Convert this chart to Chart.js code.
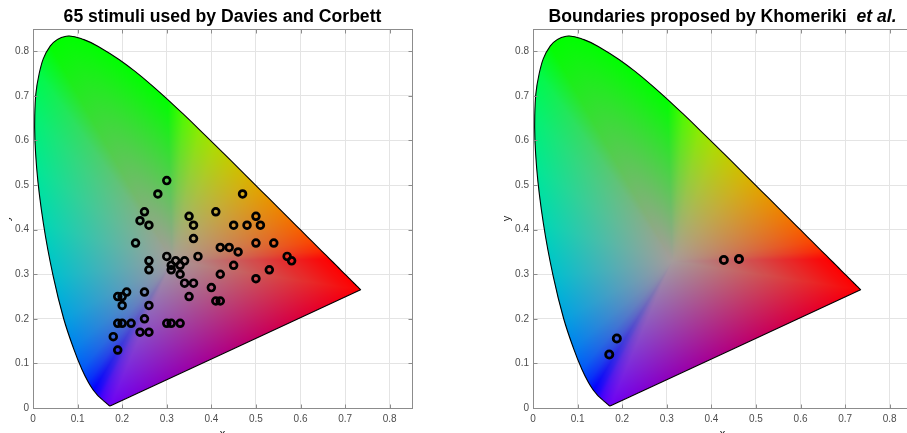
<!DOCTYPE html>
<html><head><meta charset="utf-8">
<script src="https://cdn.jsdelivr.net/npm/chart.js@4.4.1/dist/chart.umd.min.js"></script>
<style>
html,body{margin:0;padding:0;width:907px;height:433px;overflow:hidden;background:#fff;}
#w1{position:absolute;left:9px;top:0;width:441px;height:433px;overflow:hidden;}
#c1{position:absolute;left:-9px;top:0;display:block;}
#w2{position:absolute;left:460px;top:0;width:447px;height:433px;overflow:hidden;}
#c2{position:absolute;left:0;top:0;display:block;}
</style></head><body>
<div id="w1"><canvas id="c1" width="460" height="450"></canvas></div>
<div id="w2"><canvas id="c2" width="480" height="450"></canvas></div>
<script>
// ---- data ----
// CIE 1931 2-degree spectral locus, 380..700 nm
const locusX = [0.1741,0.1740,0.1738,0.1736,0.1733,0.1730,0.1726,0.1721,0.1714,0.1703,0.1689,0.1669,0.1644,0.1611,0.1566,0.1510,0.1440,0.1355,0.1241,0.1096,0.0913,0.0687,0.0454,0.0235,0.0082,0.0039,0.0139,0.0389,0.0743,0.1142,0.1547,0.1929,0.2296,0.2658,0.3016,0.3373,0.3731,0.4087,0.4441,0.4788,0.5125,0.5448,0.5752,0.6029,0.6270,0.6482,0.6658,0.6801,0.6915,0.7006,0.7079,0.7140,0.7190,0.7230,0.7260,0.7283,0.7300,0.7311,0.7320,0.7327,0.7334,0.7344,0.7347];
const locusY = [0.0050,0.0050,0.0049,0.0049,0.0048,0.0048,0.0048,0.0048,0.0051,0.0058,0.0069,0.0086,0.0109,0.0138,0.0177,0.0227,0.0297,0.0399,0.0578,0.0868,0.1327,0.2007,0.2950,0.4127,0.5384,0.6548,0.7502,0.8120,0.8338,0.8262,0.8059,0.7816,0.7543,0.7243,0.6923,0.6589,0.6245,0.5896,0.5547,0.5202,0.4866,0.4544,0.4242,0.3965,0.3725,0.3514,0.3340,0.3197,0.3083,0.2993,0.2920,0.2859,0.2809,0.2770,0.2740,0.2717,0.2700,0.2689,0.2680,0.2673,0.2666,0.2656,0.2653];

const stimX = [0.30,0.28,0.47,0.25,0.41,0.35,0.50,0.24,0.26,0.36,0.45,0.48,0.51,0.36,0.23,0.50,0.54,0.42,0.44,0.46,0.30,0.37,0.57,0.26,0.32,0.34,0.58,0.31,0.33,0.45,0.26,0.31,0.53,0.33,0.42,0.50,0.34,0.36,0.40,0.21,0.25,0.19,0.20,0.35,0.41,0.42,0.20,0.26,0.25,0.19,0.20,0.22,0.30,0.31,0.33,0.24,0.26,0.18,0.19];
const stimY = [0.51,0.48,0.48,0.44,0.44,0.43,0.43,0.42,0.41,0.41,0.41,0.41,0.41,0.38,0.37,0.37,0.37,0.36,0.36,0.35,0.34,0.34,0.34,0.33,0.33,0.33,0.33,0.32,0.32,0.32,0.31,0.31,0.31,0.30,0.30,0.29,0.28,0.28,0.27,0.26,0.26,0.25,0.25,0.25,0.24,0.24,0.23,0.23,0.20,0.19,0.19,0.19,0.19,0.19,0.19,0.17,0.17,0.16,0.13];

const khomX = [0.428,0.462,0.188,0.171];
const khomY = [0.332,0.334,0.156,0.120];

const tickVals = [0,0.1,0.2,0.3,0.4,0.5,0.6,0.7,0.8];
const tickLabels = ['0','0.1','0.2','0.3','0.4','0.5','0.6','0.7','0.8'];

const title1 = '65 stimuli used by Davies and Corbett';
const title2 = 'Boundaries proposed by Khomeriki  et al.';
const title2Italic = 'et al.';

// ---- rendering helpers ----
const WHITE = [0.3127, 0.3290];
const CENTER_RGB = [165, 155, 155];
function gam(v){ return v <= 0.0031308 ? 12.92*v : 1.055*Math.pow(v,1/2.4)-0.055; }
function xyToRGB(x,y){
  const X = x/y, Y = 1, Z = (1-x-y)/y;
  let r = 3.2406*X - 1.5372*Y - 0.4986*Z;
  let g = -0.9689*X + 1.8758*Y + 0.0415*Z;
  let b = 0.0557*X - 0.2040*Y + 1.0570*Z;
  r = Math.max(r,0); g = Math.max(g,0); b = Math.max(b,0);
  const m = Math.max(r,g,b) || 1;
  const c = [gam(r/m), gam(g/m), gam(b/m)];
  const s = c.slice().sort((a,b)=>b-a)[1];
  const k = 1 - 0.22*s*s;
  return c.map(v => 255*v*k);
}

const fillPlugin = {
  id: 'chromaFill',
  beforeDatasetsDraw(chart){
    const ca = chart.chartArea, xs = chart.scales.x, ys = chart.scales.y, ctx = chart.ctx;
    if (!chart.$fill){
      const x0 = Math.floor(ca.left), y0 = Math.floor(ca.top);
      const w = Math.ceil(ca.right) - x0, h = Math.ceil(ca.bottom) - y0;
      const off = document.createElement('canvas'); off.width = w; off.height = h;
      const octx = off.getContext('2d'); const img = octx.createImageData(w,h); const d = img.data;
      const n = locusX.length;
      const ax = [], ay = [], vc = [];
      for (let i=0;i<n;i++){ ax.push(locusX[i]-WHITE[0]); ay.push(locusY[i]-WHITE[1]); vc.push(xyToRGB(locusX[i],locusY[i])); }
      const colX = [], rowY = [];
      for (let i=0;i<w;i++) colX.push(xs.getValueForPixel(x0+i+0.5)-WHITE[0]);
      for (let j=0;j<h;j++) rowY.push(ys.getValueForPixel(y0+j+0.5)-WHITE[1]);
      let last = 0;
      for (let j=0;j<h;j++){
        const py = rowY[j];
        for (let i=0;i<w;i++){
          const px = colX[i];
          for (let t=0;t<n;t++){
            const k = (last + t) % n, q = (k+1) % n;
            const den = ax[k]*ay[q] - ay[k]*ax[q];
            if (Math.abs(den) < 1e-12) continue;
            let u = (px*ay[q] - ax[q]*py)/den;
            let v = (ax[k]*py - px*ay[k])/den;
            if (u >= -1e-9 && v >= -1e-9){
              last = k;
              const s = u+v;
              if (s > 1.1) break;
              if (s > 1){ u /= s; v /= s; }
              const wc = 1-u-v, o = (j*w+i)*4;
              d[o]   = wc*CENTER_RGB[0] + u*vc[k][0] + v*vc[q][0];
              d[o+1] = wc*CENTER_RGB[1] + u*vc[k][1] + v*vc[q][1];
              d[o+2] = wc*CENTER_RGB[2] + u*vc[k][2] + v*vc[q][2];
              d[o+3] = 255;
              break;
            }
          }
        }
      }
      octx.putImageData(img,0,0);
      chart.$fill = {off, x0, y0};
    }
    ctx.save();
    ctx.beginPath();
    let ok = false;
    try {
      const line = chart.getDatasetMeta(0).dataset;
      line.updateControlPoints(ca, 'x');
      line.path(ctx);
      ok = true;
    } catch(e){ ok = false; }
    if (!ok){
      ctx.beginPath();
      for (let i=0;i<locusX.length;i++){
        const px = xs.getPixelForValue(locusX[i]), py = ys.getPixelForValue(locusY[i]);
        if (i===0) ctx.moveTo(px,py); else ctx.lineTo(px,py);
      }
    }
    ctx.closePath();
    ctx.clip();
    ctx.drawImage(chart.$fill.off, chart.$fill.x0, chart.$fill.y0);
    ctx.restore();
  }
};

const boxPlugin = {
  id: 'matBox',
  afterDraw(chart){
    const ctx = chart.ctx, ca = chart.chartArea, xs = chart.scales.x, ys = chart.scales.y;
    const L = Math.round(ca.left)+0.5, R = Math.round(ca.right)+0.5, T = Math.round(ca.top)+0.5, B = Math.round(ca.bottom)+0.5;
    ctx.save();
    ctx.strokeStyle = '#8c8c8c'; ctx.lineWidth = 1;
    ctx.strokeRect(L, T, R-L, B-T);
    ctx.beginPath();
    tickVals.forEach(v => {
      const px = Math.round(xs.getPixelForValue(v))+0.5;
      ctx.moveTo(px, B); ctx.lineTo(px, B-4);
      ctx.moveTo(px, T); ctx.lineTo(px, T+4);
      const py = Math.round(ys.getPixelForValue(v))+0.5;
      ctx.moveTo(L, py); ctx.lineTo(L+4, py);
      ctx.moveTo(R, py); ctx.lineTo(R-4, py);
    });
    ctx.stroke();
    ctx.restore();
  }
};

const titlePlugin = {
  id: 'titlePatch',
  beforeDraw(chart, args, opts){
    const tb = chart.titleBlock;
    if (!tb || tb.$patched) return;
    tb.$patched = true;
    tb.draw = function(){
      const ctx = chart.ctx, ca = chart.chartArea;
      const text = chart.options.plugins.title.text;
      const ital = opts.italic || '';
      const pre = ital && text.endsWith(ital) ? text.slice(0, text.length-ital.length) : text;
      const suf = ital && text.endsWith(ital) ? ital : '';
      const fam = '"Liberation Sans", Arial, Helvetica, sans-serif';
      const f1 = 'bold ' + opts.size + 'px ' + fam, f2 = 'italic bold ' + opts.size + 'px ' + fam;
      ctx.save();
      ctx.font = f1; const w1 = ctx.measureText(pre).width;
      ctx.font = f2; const w2 = suf ? ctx.measureText(suf).width : 0;
      let x = (ca.left + ca.right)/2 - (w1+w2)/2;
      ctx.fillStyle = '#000'; ctx.textAlign = 'left'; ctx.textBaseline = 'alphabetic';
      ctx.font = f1; ctx.fillText(pre, x, opts.baseline);
      if (suf){ ctx.font = f2; ctx.fillText(suf, x + w1, opts.baseline); }
      ctx.restore();
    };
  }
};

Chart.defaults.font.family = '"Liberation Sans", Arial, Helvetica, sans-serif';

function axis(titleText){
  return {
    type: 'linear', min: 0, max: 0.85,
    afterBuildTicks: s => { s.ticks = tickVals.map(v => ({value: v})); },
    ticks: { includeBounds: false, autoSkip: false, maxRotation: 0, color: '#4d4d4d', font: {size: 10}, padding: 4,
             callback: (v, i) => tickLabels[i] },
    grid: { color: '#e4e4e4', lineWidth: 1, drawTicks: false },
    border: { display: false },
    title: { display: true, text: titleText, color: '#262626', font: {size: 11}, padding: {top: 0, bottom: 0} }
  };
}

function makeChart(id, xsArr, ysArr, titleText, italic, padLeft, padRight, radius, bw){
  const xA = axis('x'); xA.ticks = Object.assign({}, xA.ticks, {padding: 5});
  xA.afterFit = s => { s.height = 33; };
  const yA = axis('y');
  yA.afterFit = s => { s.width = 33; };
  return new Chart(document.getElementById(id), {
    type: 'scatter',
    data: {
      datasets: [
        { label: 'locus', data: locusX.concat([locusX[0]]).map((x,i) => ({x, y: locusY.concat([locusY[0]])[i]})),
          showLine: true, borderColor: '#000', borderWidth: 1.1, pointRadius: 0, fill: false, order: 2, tension: 0.4 },
        { label: 'stimuli', data: xsArr.map((x,i) => ({x, y: ysArr[i]})),
          pointStyle: 'circle', pointRadius: radius, borderWidth: bw, borderColor: '#000',
          backgroundColor: 'rgba(0,0,0,0)', showLine: false, order: 1 }
      ]
    },
    options: {
      responsive: false, animation: false, events: [],
      layout: { padding: { left: padLeft, right: padRight, top: 0, bottom: 9 } },
      plugins: {
        legend: { display: false }, tooltip: { enabled: false },
        title: { display: true, text: titleText, font: {size: 16, weight: 'bold', lineHeight: 1.2}, padding: {top: 5, bottom: 4.8} },
        titlePatch: { italic: italic, size: 17.6, baseline: 22 }
      },
      scales: { x: xA, y: yA }
    },
    plugins: [titlePlugin, fillPlugin, boxPlugin]
  });
}

makeChart('c1', stimX, stimY, title1, '', 0, 48, 3.4, 2.7);
makeChart('c2', khomX, khomY, title2, title2Italic, 40, 28, 3.6, 2.8);
</script>
</body></html>
